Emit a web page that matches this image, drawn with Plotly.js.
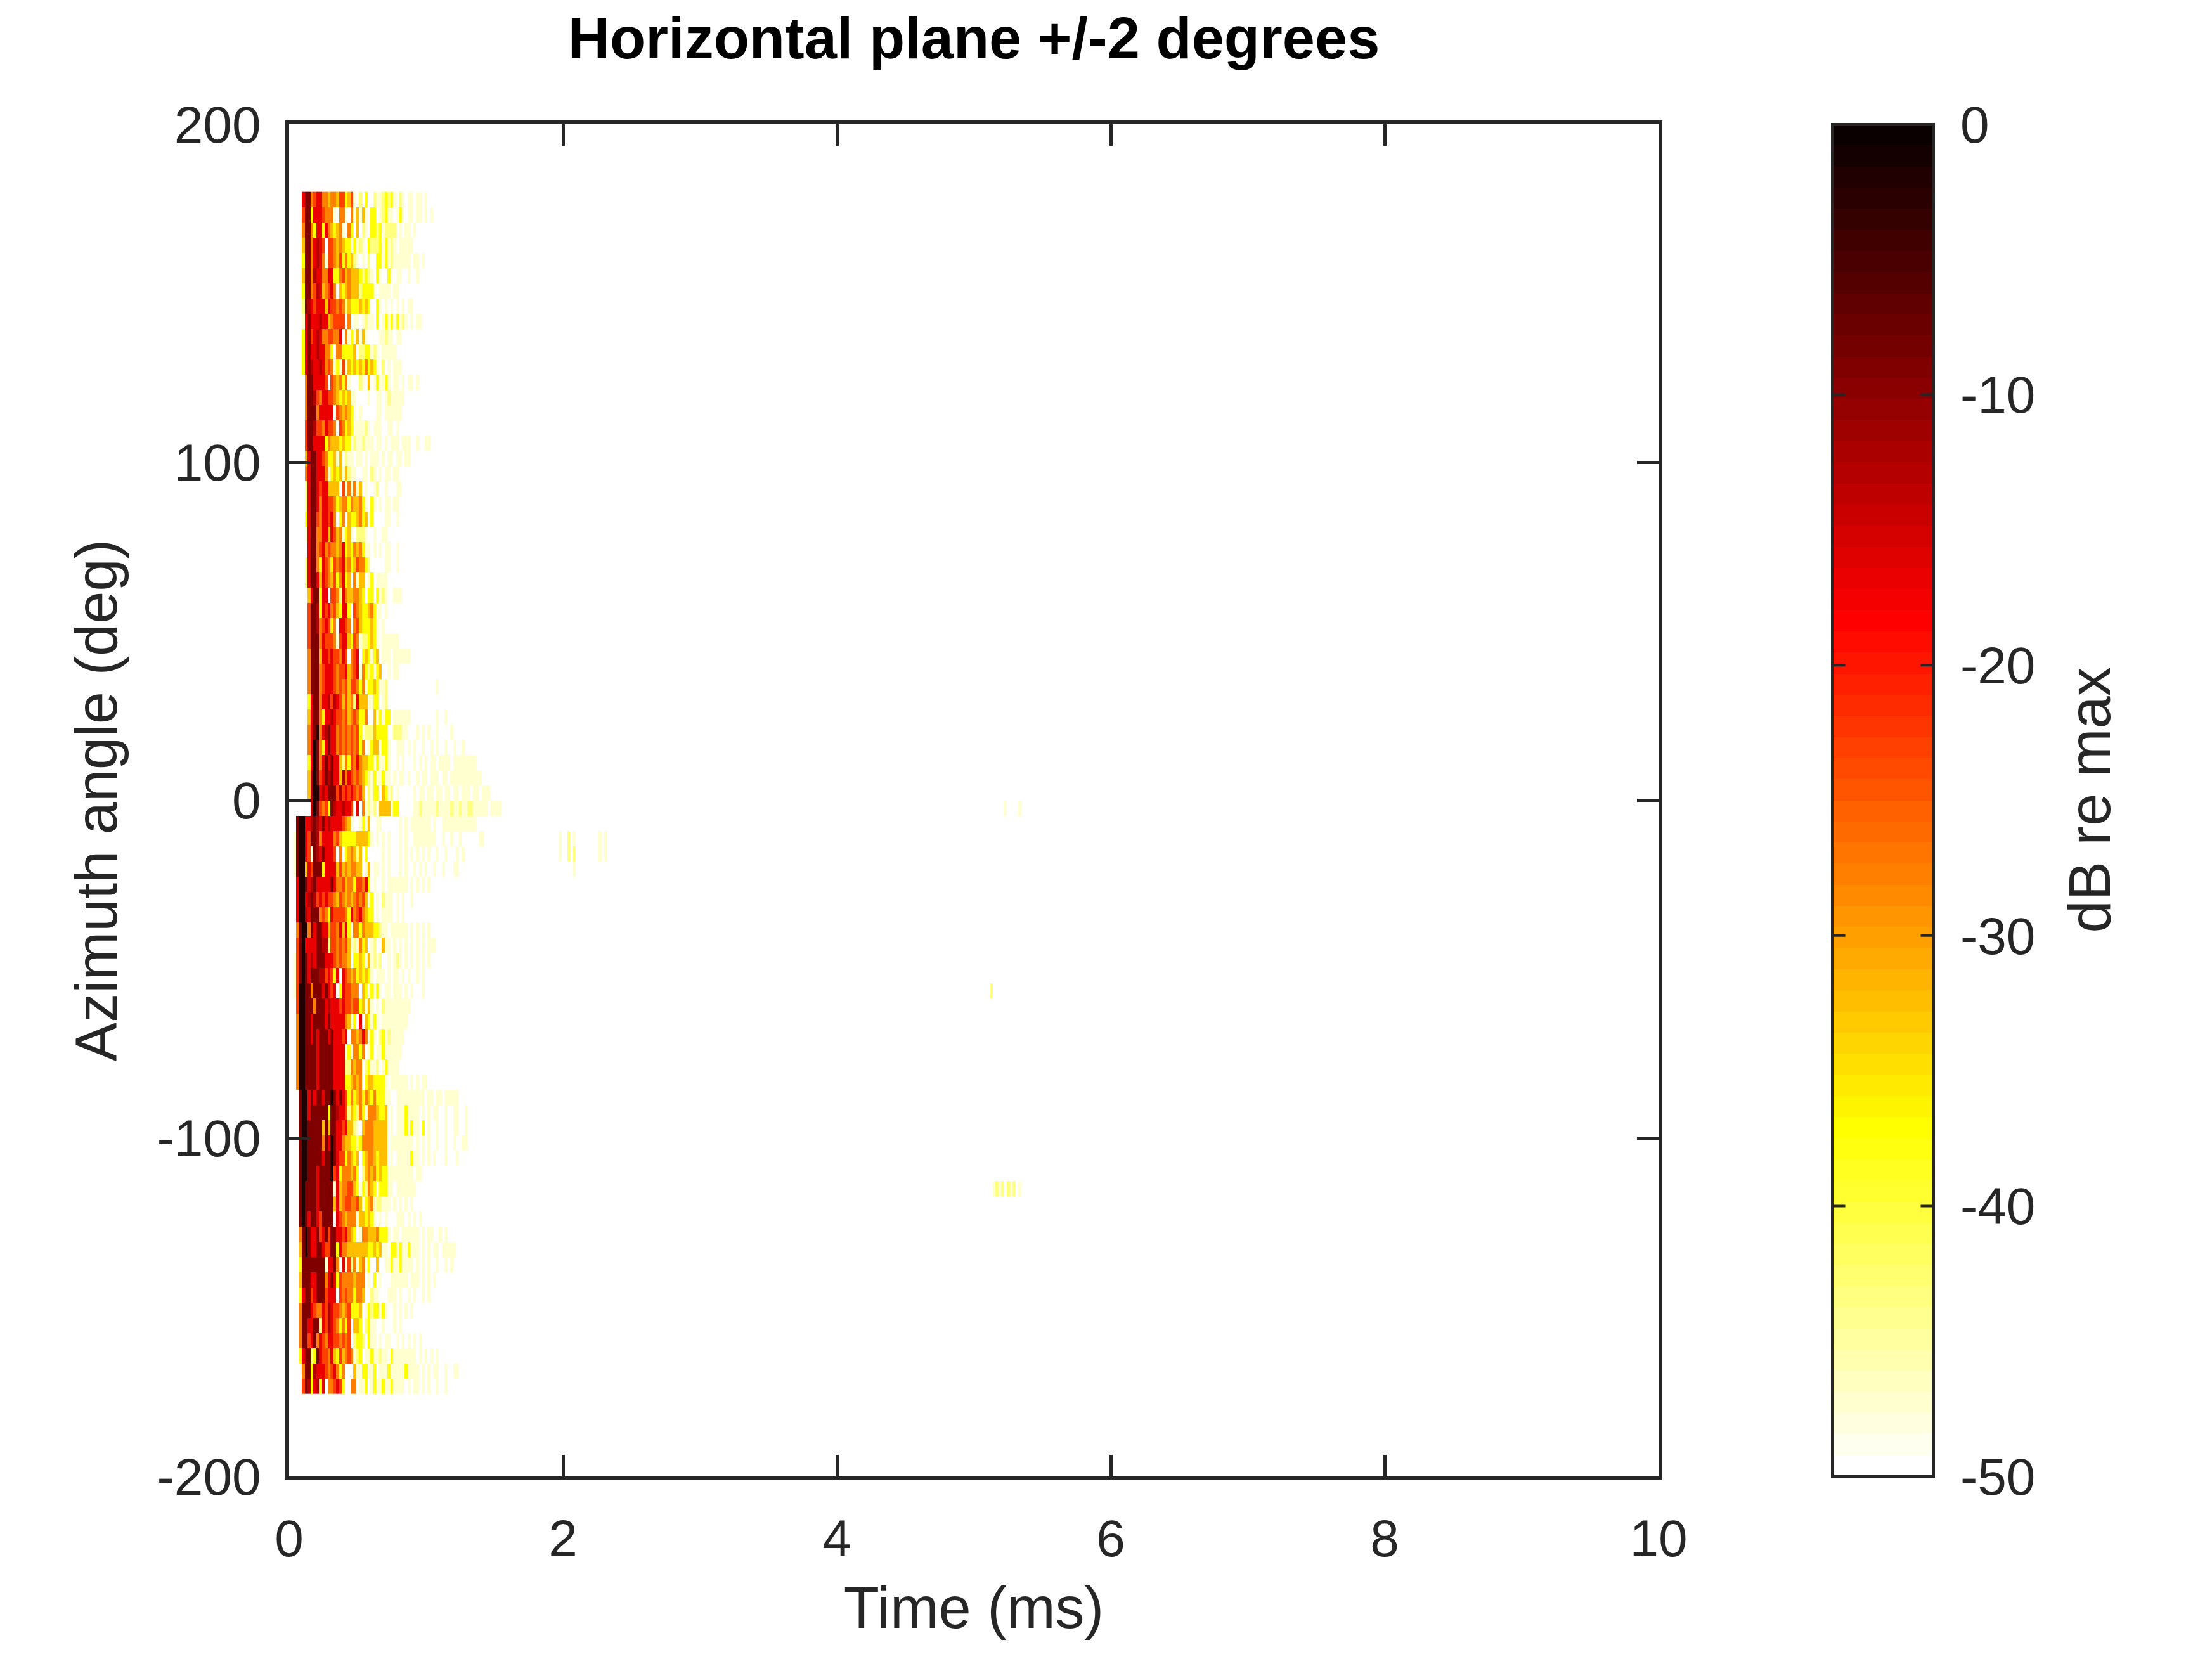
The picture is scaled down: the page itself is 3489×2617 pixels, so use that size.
<!DOCTYPE html>
<html>
<head>
<meta charset="utf-8">
<script src="https://cdn.plot.ly/plotly-3.0.1.min.js"></script>
<style>
  html, body { margin: 0; padding: 0; background: #ffffff; }
  #chart { width: 3489px; height: 2617px; }
</style>
</head>
<body>
<div id="chart"></div>
<script>
// ---------------- DATA ----------------
// Time axis: samples at 48 kHz, first column = sample 2 (ms = k/48)
const timeStartSample = 2;
const samplesPerMs = 48;
// Azimuth rows: top row centre and row step (degrees)
const azimuthFirst = 177.75;
const azimuthStep = -4.5;

// Level codes: '.' = below -50 dB (blank); digit -> dB value below
const levelDb = [-2, -9, -12.9, -16.8, -23, -27.7, -32.4, -37.1, -43.4, -47.3];

// One string per azimuth row (top = +177.75 deg), characters start at sample 2
const rowCodes = [
"...31 15433 55655 64476 49.8. 7..89 98787 9.89. 99.99 .9",
"...41 17333 45559 .559. 59696 9.77. 98799 .979. 99.99 .9.9",
"...51 15733 73567 659.5 7.6.8 9.778 79888 8.9.9 9.9",
"...61 15323 4.445 65677 97989 .7888 79798 9.999 99",
"...71 15323 59445 64757 689.9 .8..7 79798 99999 9.99. 9",
"...61 15233 55337 75465 66678 789.7 9..79 .99.. 9..9",
"...71 15423 65435 .6765 66687 7779. 9999. 99",
"...81 23433 36344 54586 77767 67..7 9.9.9 .9.9. 99",
"...93 13332 33654 444.5 .99.9 899.7 .9797 97989 .9.99",
"...73 14323 55445 53.59 79696 9.... 99899 .99",
"...73 13323 3557. 55777 76.88 77989 .9999 9",
"...73 12332 35459 79496 76767 57679 .8.9. 999",
"....5 11333 34.45 65759 ...89 .6.97 9979. 99.9. 99.9",
"....5 11245 33445 67676 99... .9..9 9.989 9999",
"....5 11153 3333. 45656 79.9. ....9 9.999 999",
"....4 11244 53445 .4576 79999 89.99 9..99 .9",
"....4 11333 37566 67677 98998 999.9 9.9.9 99.99 9..9. .99",
"....6 31133 45776 96.89 9.99. 9.999 .9.99 .99.9 9",
"....5 31133 35976 76968 99..9 9.89. 9.99. 99",
"....8 31134 33666 6.495 9596. 9..98 ..9.. .99",
"....8 31135 33445 76557 56657 9.79. 9.99. 99",
"....7 31145 33435 .75.6 77657 697.. ..99. .9",
"....9 31155 33634 65976 9.888 9..9. .99",
"..... 31154 35455 65376 75657 99.9. 9.99. .9",
"....8 31157 34574 54365 76455 78... ..99. .9",
"....8 31136 34564 75376 .5966 .97.9 999",
"..... 63117 33.44 58356 65567 .77.7 989.. 999",
"..... 41127 34354 67337 .4567 76579 9.9",
"..... 41125 43475 .3345 .5467 77679 .9",
"..... 41115 34445 94336 74598 87679 .9999 99",
"..... 51116 33434 4534. 543.7 67976 .999. 99999 9",
"..... 51115 43334 54436 54395 78797 6..9. 99",
"..... 51115 43334 54546 44575 97767 998.. ..... ..... ..... 9",
"..... 73115 33242 34646 58366 69977 .98",
"..... 63115 73323 44546 54577 5..69 7977. 99999 9.... ..... 9..9",
"..... 53105 32133 54545 45479 88867 777.. 88899 ...9. 9.9.. 9.... 9",
"..... 53015 73133 54545 45475 .9766 9779. .999. 9.9.. 9..9. 9..9. .9..9",
"..... 73015 31313 36857 45356 67797 9979. .9.9. ..9.9 .9.99 .9999 .9999 9999",
"..... 62014 31213 36253 45456 78979 9799. 9.99. 9..9. 99.99 9.99. 99999 99999 9",
"..... 62003 23111 42434 34546 .8977 .6798 .9... ..9.9 9.99. 99.99 .99.9 99.99 .999",
"..... .2014 54712 33233 4.3.5 9898. 66669 77... ..998 99999 89999 89989 98899 999.9 999",
".1003 32123 13233 33456 9..97 96..9 9.... ..9.9 .9999 999.9 ..999 99999 9999",
"91003 41125 33335 46777 77666 679.9 .9.9. ..9.9 ..999 99999 ..9.. 9..9. ..... 99",
"91003 49123 13334 .5.76 5686. 7.... .9.9. ..9.9 .9.9. 9.9.. 9..9. ..9.9",
"91006 34111 73333 64656 5566. 96.99 .9.9. ..9.9 ..9.9 .9..9 ..9.. .99",
".3001 32133 33313 55465 57445 37.9. .9.99 99999 .9.9. 9.9",
".3003 21243 43445 64565 65454 697.9 .8999 .9.9. .9",
".3002 31115 45734 44457 35435 677.9 .9999 .9.9",
".5100 51311 33644 53637 95575 66677 899.9 99999 .9.9. 9.9",
".4103 33311 22844 54546 98957 6.98. .699. 9.9.9 .9.9. 9.999",
"94101 32311 13334 54556 .7767 96989 8..9. 989.9 .9.9. 9.9",
"94101 31112 24347 3.345 65767 679.9 99.9. 99.9. 9..9. 9",
"94001 15111 31343 .7344 555.6 79797 9.99. 999.9 .9... 9",
".4001 11511 13233 34344 54476 969.9 .8999 99999 9",
".5001 13111 13133 33356 97.3. 67979 .9999 99999",
".5001 13131 11313 3343. 55653 5979. 87989 9999",
".5001 11131 11113 33397 95575 .97.9 97999 999",
".5001 11131 11113 33388 5655. 87998 .9799 99",
".5001 11131 11113 33377 6565. 76677 779.9 99999 .9.9. 99",
"..100 31311 31101 31347 57657 56757 7799. .9999 99999 9.99. 99.99 999",
"..100 31111 11711 23348 67857 95556 776.9 .9997 9999. 9.9.9 9..9. .99.. 9",
"..100 11111 61611 33436 689.6 55566 666.9 .9997 9799. 7.9.. 9..9. .99.. 9",
"..100 11111 51301 33566 77875 55566 666.9 99999 99.9. 9.9.. 9..9. .9..9 9",
"..100 11111 31101 34475 676.7 65567 666.9 .9999 9799. 9.9.9 ...9. ..9",
"..100 11131 11104 37555 657.8 65657 67799 99999 99.99",
"..101 11131 11119 36554 46797 85679 77799 .9999 999",
"..101 11131 11116 36544 55469 76598 8999. 9.9.9 .9",
"..101 31134 1111. 34565 55966 7679. 9.9.. .999. 9.9.9",
"..510 13314 31411 33435 67.95 56665 7779. 99.99 9999. 9.99. .9.9",
"..610 13311 34411 73556 66666 67767 699.7 79799 7999. 9.9.9 9.999 99",
"..711 11111 19331 5.394 85965 97..6 ..997 99799 99.9. 9.9.. 9..9. 9",
"..611 13311 15313 74555 56555 .9.7. 9...9 99999 .999. 9.9.9",
"..731 14311 14333 .4545 57556 ..899 ...99 9.9.. 9.9.. 9.9",
"..511 13455 34234 45654 7776. 97877 979.. 9.9.9 .9",
"..511 33118 34234 57574 .667. 8799. .9... 9.9",
"..511 43153 45334 45454 .8778 .799. 9.99. .9.9. 9.9.9",
"..731 18713 44536 74654 5987. 99799 899.7 99999 999.9 .9.9. 9",
"...51 17233 34543 575.. .6997 7997. 99979 99997 9999. 9.9.9 9..9. .99",
"...41 27327 3.554 347.. 55.99 7.979 97997 9999. 9.99. 9.9.. 9..9"
];

// Isolated faint cells later in time: row index, sample number, level code
const speckRows  = [42, 43, 42, 43, 42, 43, 44, 42, 43, 42, 43, 40, 40, 52, 65, 65, 65, 65, 65, 65, 65, 65];
const speckCols  = [95, 95, 98, 98, 100, 100, 100, 109, 109, 111, 111, 251, 256, 246, 247, 248, 249, 250, 252, 253, 254, 256];
const speckCodes = ['9','9','8','8','9','8','9','9','9','9','9','9','9','8','9','8','9','8','8','9','8','9'];

// Axis / colorbar tick labels
const xTickVals = [0, 2, 4, 6, 8, 10];
const yTickVals = [-200, -100, 0, 100, 200];
const yTickText = ['-200', '-100', '0', '100', '200'];
const cbTickVals = [0, -10, -20, -30, -40, -50];
const cbTickText = ['0', '-10', '-20', '-30', '-40', '-50'];

// ---------------- BUILD ----------------
const lastSample = 256;
const nCols = lastSample - timeStartSample + 1;
const z = rowCodes.map(s => {
  const clean = s.replace(/ /g, '');
  const row = new Array(nCols).fill(null);
  for (let i = 0; i < clean.length && i < nCols; i++) {
    const c = clean[i];
    if (c !== '.') row[i] = levelDb[parseInt(c, 10)];
  }
  return row;
});
for (let i = 0; i < speckRows.length; i++) {
  z[speckRows[i]][speckCols[i] - timeStartSample] = levelDb[parseInt(speckCodes[i], 10)];
}

// Reversed 64-level "hot" colormap (0 dB = darkest)
function hot(m) { // m = 1..64
  const n1 = 24;
  const r = m <= n1 ? m / n1 : 1;
  const g = m <= n1 ? 0 : (m <= 2 * n1 ? (m - n1) / n1 : 1);
  const b = m <= 2 * n1 ? 0 : (m - 2 * n1) / 16;
  return 'rgb(' + Math.round(r * 255) + ',' + Math.round(g * 255) + ',' + Math.round(b * 255) + ')';
}
const colorscale = [];
for (let j = 0; j < 64; j++) {
  const c = hot(64 - j);
  colorscale.push([j / 64, c]);
  colorscale.push([(j + 1) / 64, c]);
}

const axisColor = '#262626';
const fontFam = 'Liberation Sans, Arial, sans-serif';

// Geometry of the colourbar (paper units; plot area is 2160 px wide)
const plotW = 2160;
const cbLeft = (2890 - 456) / plotW;
const cbThick = 160;
const cbRight = cbLeft + cbThick / plotW;
const cbTickPx = 22;

// Inward tick marks on both edges of the colourbar (drawn as arrow-only annotations)
const annotations = [];
cbTickVals.forEach(v => {
  if (v === 0 || v === -50) return;
  const yp = (v + 50) / 50;
  [[cbLeft, cbTickPx], [cbRight, -cbTickPx]].forEach(([xp, off]) => {
    annotations.push({
      xref: 'paper', yref: 'paper', x: xp, y: yp, ax: off, ay: 0,
      text: '', showarrow: true, arrowhead: 0, arrowwidth: 4, arrowcolor: axisColor,
      standoff: 0, startstandoff: 0
    });
  });
});
annotations.push({
  text: 'dB re max', textangle: -90,
  xref: 'paper', yref: 'paper', x: (3295 - 456) / plotW, y: 0.5,
  xanchor: 'center', yanchor: 'middle', showarrow: false,
  font: { family: fontFam, size: 92, color: axisColor }
});

const trace = {
  type: 'heatmap',
  z: z,
  x0: timeStartSample / samplesPerMs,
  dx: 1 / samplesPerMs,
  y0: azimuthFirst,
  dy: azimuthStep,
  zmin: -50,
  zmax: 0,
  zsmooth: false,
  colorscale: colorscale,
  hoverongaps: false,
  colorbar: {
    x: cbLeft, xanchor: 'left', xref: 'paper',
    y: 0.5, yanchor: 'middle', yref: 'paper',
    len: 1, lenmode: 'fraction',
    thickness: cbThick, thicknessmode: 'pixels',
    xpad: 0, ypad: 0,
    outlinewidth: 4, outlinecolor: axisColor,
    tickmode: 'array', tickvals: cbTickVals, ticktext: cbTickText,
    ticks: 'outside', ticklen: 24, tickwidth: 1, tickcolor: 'rgba(0,0,0,0)',
    tickfont: { family: fontFam, size: 82, color: axisColor },
    title: { text: '' }
  }
};

const layout = {
  width: 3489, height: 2617,
  paper_bgcolor: '#ffffff', plot_bgcolor: '#ffffff',
  margin: { l: 456, r: 873, t: 196, b: 288, pad: 0 },
  font: { family: fontFam, color: axisColor, size: 82 },
  title: {
    text: '<b>Horizontal plane +/-2 degrees</b>',
    font: { family: fontFam, size: 92, color: '#000000' },
    x: 0.5, xref: 'paper', xanchor: 'center',
    y: 1 - 60 / 2617, yref: 'container', yanchor: 'middle'
  },
  xaxis: {
    range: [0, 10], tickmode: 'array', tickvals: xTickVals,
    ticks: 'inside', ticklen: 34, tickwidth: 5, tickcolor: axisColor,
    showline: true, linewidth: 6, linecolor: axisColor, mirror: 'ticks',
    showgrid: false, zeroline: false,
    ticklabelstandoff: 22,
    tickfont: { family: fontFam, size: 82, color: axisColor },
    title: { text: 'Time (ms)', font: { family: fontFam, size: 92, color: axisColor }, standoff: 34 }
  },
  yaxis: {
    range: [-200, 200], tickmode: 'array', tickvals: yTickVals, ticktext: yTickText,
    ticks: 'inside', ticklen: 34, tickwidth: 5, tickcolor: axisColor,
    showline: true, linewidth: 6, linecolor: axisColor, mirror: 'ticks',
    showgrid: false, zeroline: false,
    ticklabelstandoff: 22,
    tickfont: { family: fontFam, size: 82, color: axisColor },
    title: { text: 'Azimuth angle (deg)', font: { family: fontFam, size: 92, color: axisColor }, standoff: 34 }
  },
  annotations: annotations
};

Plotly.newPlot('chart', [trace], layout, { displayModeBar: false, staticPlot: true });
</script>
</body>
</html>
